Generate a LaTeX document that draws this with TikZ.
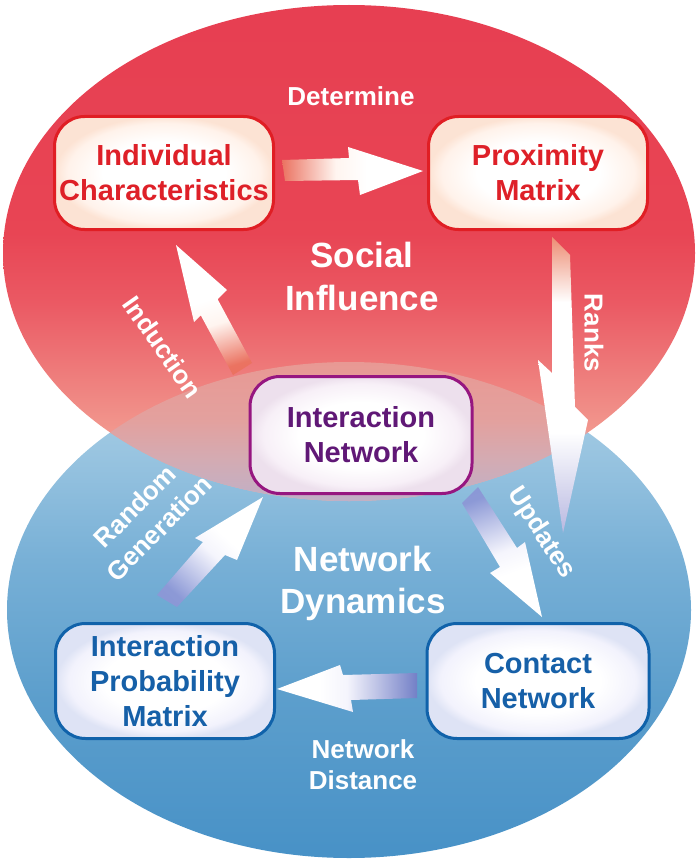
\documentclass[tikz,border=0pt]{standalone}
\usepackage{fontspec}
\setmainfont{Liberation Sans}
\definecolor{redT}{RGB}{222,32,40}
\definecolor{redB}{RGB}{224,30,36}
\definecolor{purT}{RGB}{96,24,118}
\definecolor{purB}{RGB}{150,22,128}
\definecolor{bluT}{RGB}{22,96,168}
\definecolor{bluB}{RGB}{16,98,170}
\pgfdeclareverticalshading{redell}{100bp}{rgb(0bp)=(0.965,0.70,0.64); rgb(25bp)=(0.965,0.70,0.64); rgb(30bp)=(0.955,0.63,0.58); rgb(35bp)=(0.94,0.54,0.52); rgb(45bp)=(0.92,0.35,0.39); rgb(52bp)=(0.91,0.27,0.33); rgb(75bp)=(0.905,0.245,0.32); rgb(100bp)=(0.905,0.245,0.32)}
\pgfdeclareverticalshading{blueell}{100bp}{rgb(0bp)=(0.28,0.57,0.78); rgb(25bp)=(0.28,0.57,0.78); rgb(41bp)=(0.36,0.62,0.80); rgb(55bp)=(0.47,0.69,0.84); rgb(66bp)=(0.60,0.77,0.88); rgb(75bp)=(0.68,0.82,0.905); rgb(100bp)=(0.68,0.82,0.905)}
\pgfdeclareverticalshading{overlap}{100bp}{rgb(0bp)=(0.75,0.69,0.78); rgb(25bp)=(0.75,0.69,0.78); rgb(40bp)=(0.83,0.67,0.70); rgb(54bp)=(0.89,0.63,0.62); rgb(75bp)=(0.91,0.60,0.58); rgb(100bp)=(0.91,0.60,0.58)}
\pgfdeclarehorizontalshading{salfade}{100bp}{rgb(0bp)=(0.92,0.42,0.36); rgb(25bp)=(0.92,0.45,0.38); rgb(44bp)=(1,0.96,0.94); rgb(55bp)=(1,1,1); rgb(100bp)=(1,1,1)}
\pgfdeclarehorizontalshading{bluefade}{100bp}{rgb(0bp)=(0.52,0.58,0.83); rgb(25bp)=(0.55,0.60,0.84); rgb(50bp)=(0.96,0.96,0.99); rgb(60bp)=(1,1,1); rgb(100bp)=(1,1,1)}
\pgfdeclarehorizontalshading{bluefadeB}{100bp}{rgb(0bp)=(0.42,0.48,0.78); rgb(25bp)=(0.45,0.50,0.78); rgb(50bp)=(0.96,0.96,0.99); rgb(60bp)=(1,1,1); rgb(100bp)=(1,1,1)}
\pgfdeclarehorizontalshading{ranksfade}{100bp}{rgb(0bp)=(0.92,0.50,0.42); rgb(25bp)=(0.93,0.55,0.45); rgb(36bp)=(1,1,1); rgb(58bp)=(1,1,1); rgb(75bp)=(0.72,0.72,0.88); rgb(100bp)=(0.72,0.72,0.88)}
\pgfdeclareradialshading{boxred}{\pgfpoint{0bp}{0bp}}{rgb(0bp)=(1,1,1); rgb(14bp)=(1,1,1); rgb(22bp)=(1,0.95,0.92); rgb(25bp)=(0.99,0.89,0.83); rgb(50bp)=(0.99,0.89,0.83)}
\pgfdeclareradialshading{boxpur}{\pgfpoint{0bp}{0bp}}{rgb(0bp)=(1,1,1); rgb(14bp)=(1,1,1); rgb(22bp)=(0.97,0.94,0.97); rgb(25bp)=(0.93,0.88,0.93); rgb(50bp)=(0.93,0.88,0.93)}
\pgfdeclareradialshading{boxblu}{\pgfpoint{0bp}{0bp}}{rgb(0bp)=(1,1,1); rgb(14bp)=(1,1,1); rgb(22bp)=(0.95,0.95,0.99); rgb(25bp)=(0.87,0.89,0.96); rgb(50bp)=(0.87,0.89,0.96)}
\tikzset{
  box/.style={line width=3pt, rounded corners=30pt, shade, minimum width=219pt, minimum height=113pt, inner sep=0pt, align=center, font=\fontsize{29}{35}\selectfont\bfseries},
  redbox/.style={box, draw=redB, shading=boxred, text=redT},
  purbox/.style={box, draw=purB, shading=boxpur, text=purT},
  blubox/.style={box, draw=bluB, shading=boxblu, text=bluT},
  lbl/.style={text=white, font=\fontsize{26}{31}\selectfont\bfseries, align=center, inner sep=0pt},
  big/.style={text=white, font=\fontsize{35}{43}\selectfont\bfseries, align=center, inner sep=0pt},
}
\begin{document}
\begin{tikzpicture}[x=1pt,y=-1pt]
\useasboundingbox (0,0) rectangle (700,864);
\fill[white] (0,0) rectangle (700,864);
% ellipses
\shade[shading=blueell] (349,610) ellipse [x radius=342pt, y radius=248pt];
\shade[shading=redell] (349,253) ellipse [x radius=346pt, y radius=248pt];
\begin{scope}
  \clip (349,253) ellipse [x radius=346pt, y radius=248pt];
  \clip (349,610) ellipse [x radius=342pt, y radius=248pt];
  \shade[shading=overlap] (0,362) rectangle (700,501);
\end{scope}
% arrows
\shade[shading=salfade] (282,160) -- (349,158) -- (348,147) -- (423,171) -- (360,195) -- (358,180) -- (285,181) -- cycle;
\shade[shading=ranksfade, shading angle=-90] (552,237) -- (570,255) -- (575,407) -- (588,420) -- (563,533) -- (538,360) -- (552,373) -- cycle;
\shade[shading=salfade, shading angle=107.3] (233,375) -- (200.8,315.4) -- (194,322) -- (176,245) -- (227,290) -- (217.6,299.2) -- (252,363) -- cycle;
\shade[shading=bluefade, shading angle=48.3] (157,595) -- (203,542) -- (195,538) -- (263,497) -- (237,560) -- (225,555) -- (177,607) -- cycle;
\shade[shading=bluefade, shading angle=-70] (462,503) -- (478,487) -- (517,548) -- (525,542) -- (542,617) -- (490,573) -- (500,567) -- cycle;
\shade[shading=bluefadeB, shading angle=180] (417,673) -- (343,675) -- (340,665) -- (277,689) -- (353,712) -- (351,700) -- (417,698) -- cycle;
% boxes
\node[redbox] (ind) at (164,173) {Individual\\Characteristics};
\node[redbox] (prox) at (538,173) {Proximity\\Matrix};
\node[purbox, minimum width=222pt, minimum height=117pt] (inet) at (361,435) {Interaction\\Network};
\node[blubox, minimum height=115pt] (ipm) at (165,681) {Interaction\\Probability\\Matrix};
\node[blubox, minimum width=222pt, minimum height=115pt] (cont) at (538,681) {Contact\\Network};
% labels
\node[lbl] (det) at (351,96) {Determine};
\node[big] (soc) at (362,276) {Social\\Influence};
\node[lbl, rotate=-55] (indu) at (163,347) {Induction};
\node[lbl, rotate=-90] (rank) at (594,333) {Ranks};
\node[lbl, rotate=45] (rnd) at (135,506) {Random};
\node[lbl, rotate=45] (gen) at (159,528) {Generation};
\node[lbl, rotate=-57] (upd) at (541,533) {Updates};
\node[big, font=\fontsize{35}{42}\selectfont\bfseries] (nd) at (363,583) {Network\\Dynamics};
\node[lbl] (ndist) at (363,765) {Network\\Distance};
\end{tikzpicture}
\end{document}
